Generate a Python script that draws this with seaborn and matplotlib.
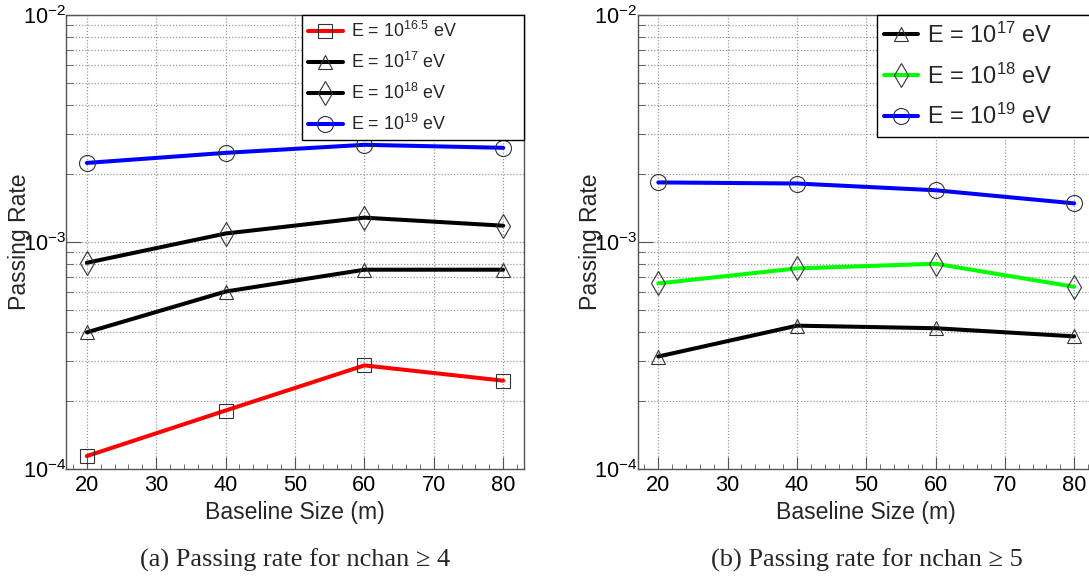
import numpy as np
import pandas as pd
import seaborn as sns
import matplotlib.pyplot as plt
from matplotlib import font_manager
from matplotlib.ticker import LogLocator, MultipleLocator, NullFormatter

sns.set_style("ticks")
# ROOT-style narrow helvetica look; use the narrow face when it is there
names = {f.name for f in font_manager.fontManager.ttflist}
if 'Liberation Sans Narrow' in names:
    sans, k = 'Liberation Sans Narrow', 1.0
else:
    sans, k = 'Liberation Sans', 0.92
plt.rcParams['font.family'] = [sans, 'DejaVu Sans']
plt.rcParams['mathtext.default'] = 'regular'
plt.rcParams['axes.unicode_minus'] = True

# baseline sizes (m)
baseline = [20, 40, 60, 80]

# (a) nchan >= 4
rate_a_165 = [1.14e-4, 1.81e-4, 2.86e-4, 2.45e-4]
rate_a_17 = [4.0e-4, 6.05e-4, 7.55e-4, 7.55e-4]
rate_a_18 = [8.1e-4, 1.09e-3, 1.28e-3, 1.18e-3]
rate_a_19 = [2.23e-3, 2.47e-3, 2.68e-3, 2.60e-3]

# (b) nchan >= 5
rate_b_17 = [3.13e-4, 4.28e-4, 4.17e-4, 3.84e-4]
rate_b_18 = [6.57e-4, 7.65e-4, 8.02e-4, 6.35e-4]
rate_b_19 = [1.83e-3, 1.81e-3, 1.69e-3, 1.48e-3]

labels_a = [r'E = 10$^{16.5}$ eV', r'E = 10$^{17}$ eV', r'E = 10$^{18}$ eV', r'E = 10$^{19}$ eV']
labels_b = [r'E = 10$^{17}$ eV', r'E = 10$^{18}$ eV', r'E = 10$^{19}$ eV']

marker_sty = {'s': 9.4, '^': 10.5, 'd': 12, 'o': 11.5}


def draw_panel(ax, series, labels, colors, markers, leg_size, leg_x, hlen, tpad, lspace):
    for vals, lab, col, mk in zip(series, labels, colors, markers):
        sns.lineplot(x=baseline, y=vals, ax=ax, color=col, linewidth=2.9,
                     marker=mk, markersize=marker_sty[mk], markerfacecolor='none',
                     markeredgecolor='#333333', markeredgewidth=0.8, label=lab)
    ax.set_yscale('log')
    ax.set_ylim(1e-4, 1e-2)
    ax.set_xlim(17, 83)
    ax.xaxis.set_major_locator(MultipleLocator(10))
    ax.xaxis.set_minor_locator(MultipleLocator(2))
    ax.yaxis.set_major_locator(LogLocator(base=10))
    ax.yaxis.set_minor_locator(LogLocator(base=10, subs=np.arange(2, 10)))
    ax.yaxis.set_minor_formatter(NullFormatter())
    ax.grid(True, which='major', axis='x', ls=(0, (1, 1.5)), color='#999999', lw=0.9)
    ax.grid(True, which='both', axis='y', ls=(0, (1, 1.5)), color='#999999', lw=0.9)
    ax.tick_params(axis='both', which='both', direction='in', colors='#555555',
                   labelcolor='black', labelsize=17 * k, top=False, right=False)
    ax.tick_params(axis='x', which='major', length=8.6, pad=4)
    ax.tick_params(axis='x', which='minor', length=3.6)
    ax.tick_params(axis='y', which='major', length=10.8, pad=0)
    ax.tick_params(axis='y', which='minor', length=5)
    for sp in ax.spines.values():
        sp.set_color('#555555')
        sp.set_linewidth(1)
    ax.set_xlabel('Baseline Size (m)', fontsize=18 * k)
    ax.set_ylabel('Passing Rate', fontsize=18 * k)
    ax.xaxis.set_label_coords(0.5, -0.07)
    ax.yaxis.set_label_coords(-0.102, 0.5)
    ax.yaxis.label.set_verticalalignment('center')
    leg = ax.legend(loc='upper left', bbox_to_anchor=(leg_x, 0, 1 - leg_x, 1), mode='expand',
                    borderaxespad=0, fancybox=False, framealpha=1, edgecolor='black',
                    fontsize=leg_size * k, handlelength=hlen, handletextpad=tpad,
                    labelspacing=lspace, borderpad=0.32)
    leg.get_frame().set_linewidth(1)


fig = plt.figure(figsize=(10.89, 5.79), dpi=100)
ax1 = fig.add_axes([66 / 1089, 110 / 579, 458 / 1089, 454 / 579])
ax2 = fig.add_axes([637.5 / 1089, 110 / 579, 457.5 / 1089, 454 / 579])

draw_panel(ax1, [rate_a_165, rate_a_17, rate_a_18, rate_a_19], labels_a,
           ['#ff0000', 'black', 'black', '#0000ff'], ['s', '^', 'd', 'o'], 14, 0.515, 1.96, 0.46, 0.62)
draw_panel(ax2, [rate_b_17, rate_b_18, rate_b_19], labels_b,
           ['black', '#00ff00', '#0000ff'], ['^', 'd', 'o'], 18.5, 0.523, 1.44, 0.35, 0.66)

fig.text(295 / 1089, 12 / 579, '(a) Passing rate for nchan \u2265 4', ha='center', va='baseline',
         fontsize=19, family=['Liberation Serif', 'DejaVu Serif'])
fig.text(867 / 1089, 12 / 579, '(b) Passing rate for nchan \u2265 5', ha='center', va='baseline',
         fontsize=19, family=['Liberation Serif', 'DejaVu Serif'])

fig.savefig('out.png', dpi=100)
